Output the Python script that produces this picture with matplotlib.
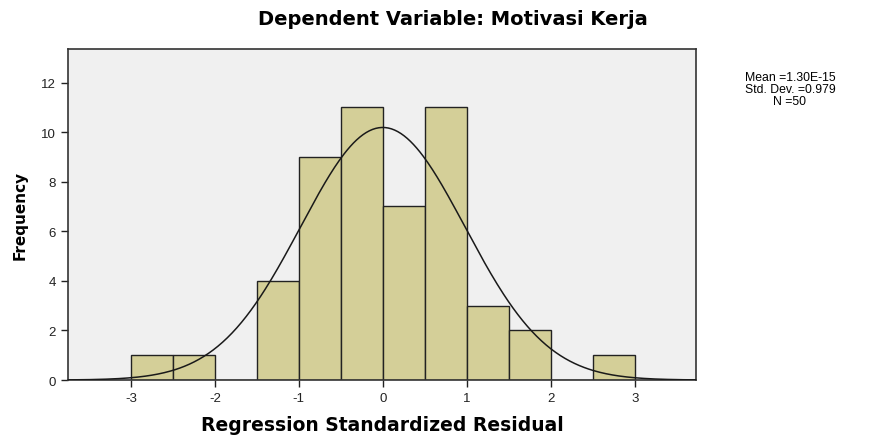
import numpy as np
import matplotlib
matplotlib.use('Agg')
import matplotlib.pyplot as plt

# histogram bins (width 0.5) and counts
bin_edges = [-3.0, -2.5, -2.0, -1.5, -1.0, -0.5, 0.0, 0.5, 1.0, 1.5, 2.0, 2.5, 3.0]
counts = [1, 1, 0, 4, 9, 11, 7, 11, 3, 2, 0, 1]
mean = 1.30e-15
std = 0.979
n = 50
xticks = [-3, -2, -1, 0, 1, 2, 3]
yticks = [0, 2, 4, 6, 8, 10, 12]

plt.rcParams['font.family'] = ['Liberation Sans', 'DejaVu Sans']
wide = ['DejaVu Sans']  # wider face to mimic the stretched SPSS labels

fig = plt.figure(figsize=(8.7, 4.39), dpi=100)
ax = fig.add_axes([0.078, 0.132, 0.722, 0.754])
ax.set_facecolor('#F0F0F0')

lefts = np.array(bin_edges[:-1])
widths = np.diff(bin_edges)
ax.bar(lefts, counts, width=widths, align='edge', color='#D4CF98',
       edgecolor='#222222', linewidth=1.0, zorder=2)

# fitted normal curve scaled to counts
bw = widths[0]
xs = np.linspace(-3.75, 3.75, 400)
ys = n * bw / (std * np.sqrt(2 * np.pi)) * np.exp(-0.5 * ((xs - mean) / std) ** 2)
ax.plot(xs, ys, color='#1a1a1a', linewidth=1.1, zorder=3)

ax.set_xlim(-3.75, 3.73)
ax.set_ylim(0, 13.35)
ax.set_xticks(xticks)
ax.set_xticklabels([str(t) for t in xticks])
ax.set_yticks(yticks)
ax.tick_params(direction='out', length=5, width=1, labelsize=9.5, colors='#222222')
for s in ax.spines.values():
    s.set_color('#333333')
    s.set_linewidth(1.2)

ax.set_xlabel('Regression Standardized Residual', fontsize=13.5, fontweight='bold',
              family=wide, labelpad=8)
ax.set_ylabel('Frequency', fontsize=11, fontweight='bold', family=wide, labelpad=10)
fig.text(0.521, 0.955, 'Dependent Variable: Motivasi Kerja', ha='center', va='center',
         fontsize=14, fontweight='bold', family=wide)

fig.text(0.908, 0.795, 'Mean =1.30E-15\nStd. Dev. =0.979\nN =50', ha='center', va='center',
         fontsize=8.8, linespacing=0.95)

fig.savefig('out.png', dpi=100)
